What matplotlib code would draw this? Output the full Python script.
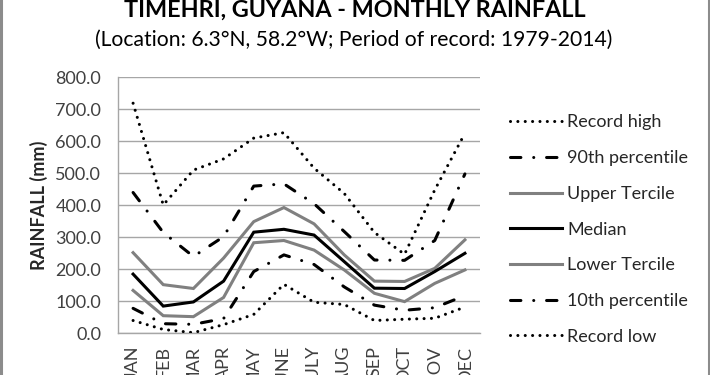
import matplotlib
matplotlib.use("Agg")
import matplotlib.pyplot as plt
from matplotlib.lines import Line2D

plt.rcParams['font.family'] = ['Lato', 'DejaVu Sans']

months = ["JAN", "FEB", "MAR", "APR", "MAY", "JUNE", "JULY", "AUG", "SEP", "OCT", "NOV", "DEC"]
record_high = [719, 401, 510, 545, 610, 627, 516, 437, 315, 247, 448, 625]
pct90 = [440, 315, 240, 302, 460, 467, 405, 318, 229, 228, 290, 498]
upper_tercile = [252, 152, 140, 235, 349, 393, 342, 245, 163, 162, 203, 292]
median = [185, 85, 98, 163, 316, 325, 307, 224, 141, 140, 193, 250]
lower_tercile = [134, 55, 52, 112, 283, 290, 260, 198, 125, 99, 156, 198]
pct10 = [78, 30, 28, 46, 193, 245, 215, 145, 88, 72, 80, 118]
record_low = [40, 12, 2, 27, 59, 153, 97, 90, 40, 44, 47, 82]

yticks = [0, 100, 200, 300, 400, 500, 600, 700, 800]
ytick_labels = [f"{v:.1f}" for v in yticks]

W, H = 710, 375
fig = plt.figure(figsize=(W / 100, H / 100), dpi=100)
ax = fig.add_axes([118 / W, (H - 333.3) / H, (480 - 118) / W, (333.3 - 77.3) / H])

x = list(range(len(months)))
dot = (0, (0.01, 2.4))
dashdot = (0, (3.4, 4.2, 0.01, 4.2))
lw = 2.2
series = [
    ("Record high", record_high, "black", dot),
    ("90th percentile", pct90, "black", dashdot),
    ("Upper Tercile", upper_tercile, "#808080", "-"),
    ("Median", median, "black", "-"),
    ("Lower Tercile", lower_tercile, "#808080", "-"),
    ("10th percentile", pct10, "black", dashdot),
    ("Record low", record_low, "black", dot),
]
handles = []
for label, vals, col, ls in series:
    (h,) = ax.plot(x, vals, color=col, linestyle=ls, lw=lw, label=label,
                   dash_capstyle="round", solid_joinstyle="miter", zorder=3)
    handles.append(h)

ax.set_xlim(-0.5, 11.5)
ax.set_ylim(0, 800)
ax.set_yticks(yticks)
ax.set_yticklabels(ytick_labels)
ax.set_xticks(x)
ax.set_xticklabels(months, rotation=90, va="top")
ax.tick_params(axis="both", length=0, labelsize=13, colors="#404040")
ax.tick_params(axis="y", pad=12)
ax.tick_params(axis="x", pad=9)
ax.grid(axis="y", color="#a6a6a6", lw=1.0)
ax.set_axisbelow(True)
for s in ["top", "right"]:
    ax.spines[s].set_visible(False)
for s in ["left", "bottom"]:
    ax.spines[s].set_color("#a6a6a6")
    ax.spines[s].set_linewidth(1.0)

fig.text(39 / W, 1 - 205 / H, "RAINFALL (mm)", rotation=90, ha="center", va="center",
         fontsize=13, fontweight="bold", color="#262626")

fig.text(355 / W, 1 - 16.7 / H, "TIMEHRI, GUYANA - MONTHLY RAINFALL", ha="center", va="baseline",
         fontsize=16.8, fontweight="bold", color="black")
fig.text(354 / W, 1 - 46 / H, "(Location: 6.3°N, 58.2°W; Period of record: 1979-2014)",
         ha="center", va="baseline", fontsize=15.2, color="black")

fig.legend(handles=handles, loc="upper left", bbox_to_anchor=(510 / W, 1 - 114.5 / H),
           frameon=False, fontsize=13, handlelength=2.9, handletextpad=0.28,
           labelspacing=1.09, borderpad=0, borderaxespad=0, labelcolor="#262626")

for xe in (1.5 / W, 1 - 1.5 / W):
    fig.add_artist(Line2D([xe, xe], [0, 1], transform=fig.transFigure,
                          color="#8c8c8c", lw=2.2))

fig.savefig("out.png", dpi=100)
